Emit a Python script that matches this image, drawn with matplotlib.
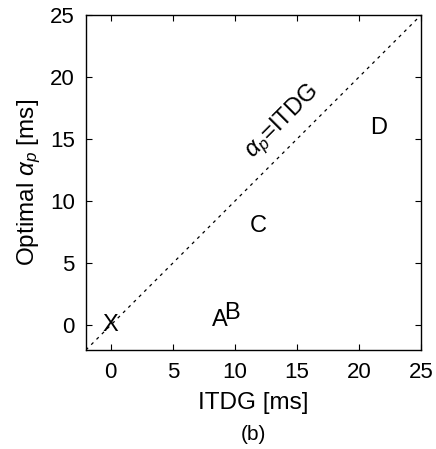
import matplotlib
matplotlib.use("Agg")
import matplotlib.pyplot as plt

labels = ["X", "A", "B", "C", "D"]
itdg = [0.0, 8.8, 9.8, 11.9, 21.6]
alpha_opt = [0.0, 0.4, 1.0, 8.0, 15.9]
ticks = [0, 5, 10, 15, 20, 25]
lims = [-2, 25]

plt.rcParams['font.family'] = ['Liberation Sans', 'DejaVu Sans']
plt.rcParams['mathtext.fontset'] = 'custom'
plt.rcParams['mathtext.rm'] = 'Liberation Sans'
plt.rcParams['mathtext.it'] = 'Liberation Sans:italic'

fig = plt.figure(figsize=(4.36, 4.49), dpi=100)
ax = fig.add_axes([0.197, 0.2205, 0.7686, 0.746])

ax.plot(lims, lims, color='black', linestyle=(0, (2.5, 3.5)), linewidth=0.9)
for lab, x, y in zip(labels, itdg, alpha_opt):
    ax.text(x, y, lab, fontsize=17, ha='center', va='center')

ax.text(13.8, 16.4, r'$\alpha_p$=ITDG', fontsize=17, rotation=45,
        ha='center', va='center', rotation_mode='anchor')

ax.set_xlim(lims)
ax.set_ylim(lims)
ax.set_xticks(ticks)
ax.set_yticks(ticks)
ax.tick_params(direction='in', length=4, width=0.8, labelsize=16,
               top=True, right=True)
ax.tick_params(axis='x', pad=9)
ax.tick_params(axis='y', pad=8)
for s in ax.spines.values():
    s.set_linewidth(1.0)

ax.set_xlabel('ITDG [ms]', fontsize=17.5, labelpad=6)
ax.set_ylabel(r'Optimal $\alpha_p$ [ms]', fontsize=17.5, labelpad=5)
fig.text(253 / 436, 1 - 435 / 449, '(b)', fontsize=15, ha='center', va='center')

fig.savefig('out.png', dpi=100)
